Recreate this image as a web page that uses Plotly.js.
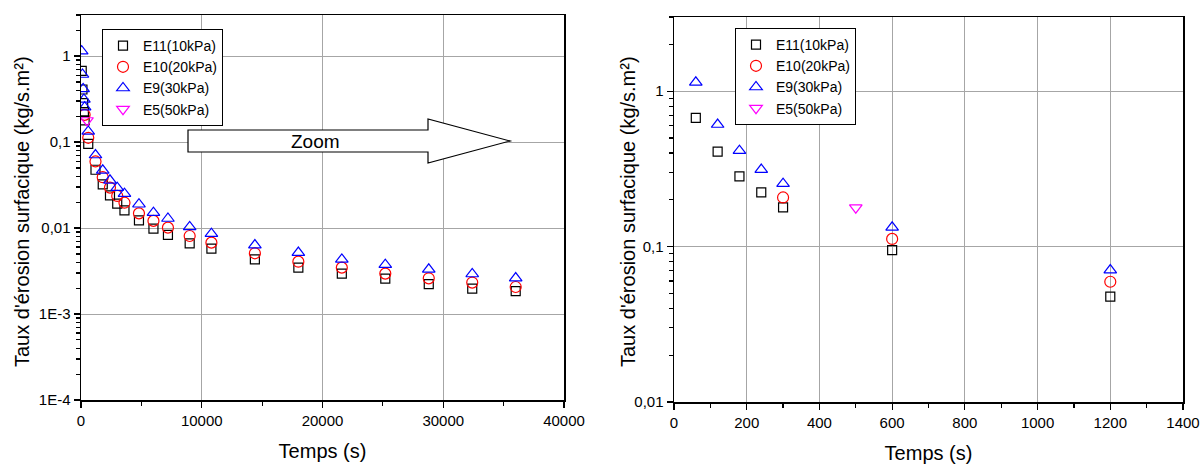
<!DOCTYPE html>
<html>
<head>
<meta charset="utf-8">
<script src="https://cdn.plot.ly/plotly-3.0.1.min.js"></script>
<style>html,body{margin:0;padding:0;background:#fff;}#chart{width:1200px;height:464px;}</style>
</head>
<body>
<div id="chart"></div>
<script>
// ---- data ----
const seriesNames = ["E11(10kPa)", "E10(20kPa)", "E9(30kPa)", "E5(50kPa)"];
const E11_t = [60,120,180,240,300,600,1200,1800,2400,3000,3600,4800,6000,7200,9000,10800,14400,18000,21600,25200,28800,32400,36000];
const E11_v = [0.673,0.408,0.283,0.223,0.179,0.095,0.0476,0.0322,0.024,0.0192,0.016,0.0123,0.00984,0.0083,0.00664,0.00575,0.00432,0.00346,0.00295,0.00258,0.00222,0.00197,0.00185];
const E10_t = [300,600,1200,1800,2400,3000,3600,4800,6000,7200,9000,10800,14400,18000,21600,25200,28800,32400,36000];
const E10_v = [0.207,0.112,0.0594,0.039,0.0295,0.0236,0.0197,0.0148,0.0121,0.0101,0.00807,0.00676,0.00508,0.00406,0.00346,0.00295,0.0026,0.00232,0.00206];
const E9_t = [60,120,180,240,300,600,1200,1800,2400,3000,3600,4800,6000,7200,9000,10800,14400,18000,21600,25200,28800,32400,36000];
const E9_v = [1.14,0.61,0.414,0.313,0.254,0.133,0.0706,0.0469,0.0359,0.0295,0.0251,0.0189,0.0151,0.0129,0.0103,0.0086,0.00634,0.00518,0.00432,0.00375,0.00331,0.00292,0.00262];
const E5_t = [500];
const E5_v = [0.178];

const leftYTickVals = [1e-4, 1e-3, 0.01, 0.1, 1];
const leftYTickText = ["1E-4", "1E-3", "0,01", "0,1", "1"];
const rightYTickVals = [0.01, 0.1, 1];
const rightYTickText = ["0,01", "0,1", "1"];
const yTitle = "Taux d'érosion surfacique (kg/s.m²)";
const xTitle = "Temps (s)";
const zoomLabel = "Zoom";

// ---- styling ----
const FONT = "Liberation Sans, Arial, sans-serif";
const styles = [
  {symbol: "square-open", color: "#000000", size: 9},
  {symbol: "circle-open", color: "#ff0000", size: 11},
  {symbol: "triangle-up-open", color: "#0000ff", size: 11},
  {symbol: "triangle-down-open", color: "#ff00ff", size: 11}
];
const xs = [E11_t, E10_t, E9_t, E5_t];
const ys = [E11_v, E10_v, E9_v, E5_v];

const traces = [];
[["x","y","legend"],["x2","y2","legend2"]].forEach(([xa, ya, lg]) => {
  for (let i = 0; i < 4; i++) {
    traces.push({
      type: "scatter", mode: "markers",
      x: xs[i], y: ys[i], name: seriesNames[i],
      xaxis: xa, yaxis: ya, legend: lg,
      marker: {symbol: styles[i].symbol, size: styles[i].size, color: styles[i].color,
               line: {width: 1.2, color: styles[i].color}}
    });
  }
});

function minorLog(lo, hi) {
  const v = [];
  for (let e = lo; e < hi; e++) for (let k = 2; k <= 9; k++) v.push(k * Math.pow(10, e));
  return v;
}

const W = 1200, H = 464;
const px = p => p / W;
const py = p => 1 - p / H;

const axisCommon = {
  showline: true, linecolor: "#000", linewidth: 1.5, mirror: true,
  ticks: "outside", ticklen: 6, tickwidth: 1.2, tickcolor: "#000",
  showgrid: true, gridcolor: "#a6a6a6", gridwidth: 1,
  zeroline: false,
  tickfont: {family: FONT, size: 15, color: "#000"}
};

const legendCommon = {
  xanchor: "left", yanchor: "top",
  bgcolor: "#fff", bordercolor: "#000", borderwidth: 1,
  font: {family: FONT, size: 14}, tracegroupgap: 0, itemwidth: 30
};

const layout = {
  width: W, height: H,
  margin: {l: 0, r: 0, t: 0, b: 0},
  paper_bgcolor: "#fff", plot_bgcolor: "#fff",
  font: {family: FONT, color: "#000"},
  showlegend: true,
  xaxis: Object.assign({}, axisCommon, {
    domain: [px(81), px(564)], anchor: "y",
    range: [0, 40000], tickmode: "linear", tick0: 0, dtick: 10000, tickformat: "d",
    minor: {ticks: "outside", ticklen: 4, tickcolor: "#000", dtick: 5000, showgrid: false},
    title: {text: xTitle, font: {family: FONT, size: 20}, standoff: 16}
  }),
  yaxis: Object.assign({}, axisCommon, {
    domain: [py(400), py(15)], anchor: "x",
    type: "log", range: [-4, Math.log10(3)],
    tickmode: "array", tickvals: leftYTickVals, ticktext: leftYTickText,
    minor: {ticks: "outside", ticklen: 4, tickcolor: "#000", tickmode: "array", tickvals: minorLog(-4, 1), showgrid: false}
  }),
  xaxis2: Object.assign({}, axisCommon, {
    domain: [px(674), px(1183)], anchor: "y2",
    range: [0, 1400], tickmode: "linear", tick0: 0, dtick: 200, tickformat: "d",
    minor: {ticks: "outside", ticklen: 4, tickcolor: "#000", dtick: 100, showgrid: false},
    title: {text: xTitle, font: {family: FONT, size: 20}, standoff: 16}
  }),
  yaxis2: Object.assign({}, axisCommon, {
    domain: [py(402), py(17)], anchor: "x2",
    type: "log", range: [-2, Math.log10(3)],
    tickmode: "array", tickvals: rightYTickVals, ticktext: rightYTickText,
    minor: {ticks: "outside", ticklen: 4, tickcolor: "#000", tickmode: "array", tickvals: minorLog(-2, 1), showgrid: false}
  }),
  legend: Object.assign({}, legendCommon, {x: px(102), y: py(29)}),
  legend2: Object.assign({}, legendCommon, {x: px(735), y: py(28)}),
  shapes: [{
    type: "path", xref: "paper", yref: "paper",
    path: "M " + px(188) + "," + py(130) + " L " + px(428) + "," + py(130) +
          " L " + px(428) + "," + py(119) + " L " + px(510) + "," + py(141) +
          " L " + px(428) + "," + py(163) + " L " + px(428) + "," + py(152) +
          " L " + px(188) + "," + py(152) + " Z",
    line: {color: "#000", width: 1.2}, fillcolor: "#fff"
  }],
  annotations: [
    {xref: "paper", yref: "paper", x: px(316), y: py(141), xanchor: "center", yanchor: "middle",
     text: zoomLabel, showarrow: false, font: {family: FONT, size: 19, color: "#000"}},
    {xref: "paper", yref: "paper", x: px(22), y: py(212), textangle: -90,
     xanchor: "center", yanchor: "middle",
     text: yTitle, showarrow: false, font: {family: FONT, size: 20, color: "#000"}},
    {xref: "paper", yref: "paper", x: px(628), y: py(212), textangle: -90,
     xanchor: "center", yanchor: "middle",
     text: yTitle, showarrow: false, font: {family: FONT, size: 20, color: "#000"}}
  ]
};

Plotly.newPlot("chart", traces, layout, {displayModeBar: false, staticPlot: true});
</script>
</body>
</html>
